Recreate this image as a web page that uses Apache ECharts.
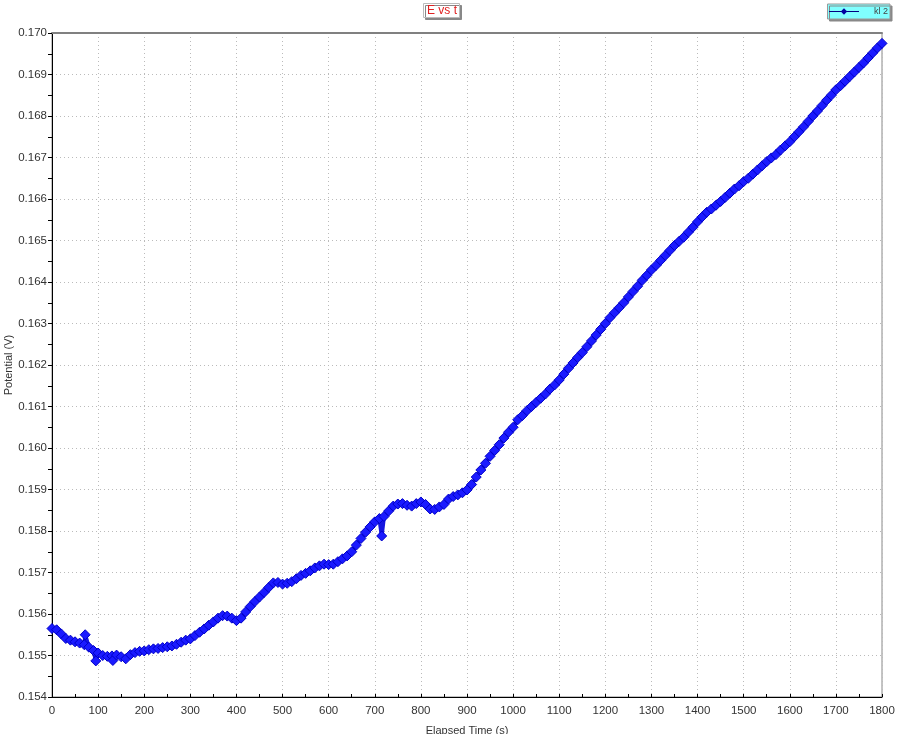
<!DOCTYPE html>
<html>
<head>
<meta charset="utf-8">
<script src="https://cdn.jsdelivr.net/npm/echarts@6/dist/echarts.min.js"></script>
<style>html,body{margin:0;padding:0;background:#fff;}#c{width:900px;height:734px;}</style>
</head>
<body>
<div id="c"></div>
<script>
// Sampling grid (s) for the main readings, every 10 s
const timeStep = 10;
// Potential readings (V) at t = 0, 10, 20, ... 1800 s
const potential = [
0.15565,0.15562,0.15552,0.15541,0.15537,0.15533,0.15530,0.15526,0.15520,0.15512,
0.15506,0.15500,0.15498,0.15499,0.15501,0.15497,0.15492,0.15502,0.15507,0.15510,
0.15511,0.15514,0.15516,0.15517,0.15519,0.15521,0.15523,0.15527,0.15532,0.15537,
0.15540,0.15548,0.15556,0.15564,0.15573,0.15581,0.15590,0.15596,0.15595,0.15590,
0.15584,0.15590,0.15605,0.15618,0.15630,0.15641,0.15652,0.15664,0.15675,0.15676,
0.15672,0.15674,0.15678,0.15685,0.15693,0.15698,0.15704,0.15711,0.15716,0.15720,
0.15719,0.15720,0.15726,0.15733,0.15740,0.15750,0.15766,0.15782,0.15797,0.15810,
0.15822,0.15830,0.15835,0.15848,0.15860,0.15865,0.15866,0.15862,0.15860,0.15866,
0.15870,0.15864,0.15853,0.15852,0.15858,0.15864,0.15877,0.15883,0.15887,0.15892,
0.15899,0.15912,0.15930,0.15947,0.15963,0.15980,0.15994,0.16008,0.16024,0.16038,
0.16050,0.16068,0.16078,0.16090,0.16100,0.16110,0.16120,0.16130,0.16142,0.16152,
0.16164,0.16178,0.16192,0.16205,0.16218,0.16230,0.16244,0.16258,0.16272,0.16286,
0.16300,0.16314,0.16326,0.16338,0.16350,0.16364,0.16377,0.16390,0.16404,0.16416,
0.16429,0.16440,0.16452,0.16464,0.16476,0.16488,0.16498,0.16508,0.16520,0.16532,
0.16545,0.16557,0.16568,0.16576,0.16585,0.16594,0.16604,0.16614,0.16624,0.16632,
0.16642,0.16650,0.16660,0.16670,0.16680,0.16690,0.16699,0.16707,0.16718,0.16728,
0.16738,0.16750,0.16762,0.16774,0.16787,0.16800,0.16812,0.16825,0.16838,0.16850,
0.16863,0.16873,0.16884,0.16895,0.16906,0.16917,0.16928,0.16940,0.16952,0.16964,
0.16975
];
// Isolated stray readings [t (s), E (V)]
const strayTimes = [72, 95, 132, 715];
const strayValues = [0.15550, 0.15487, 0.15488, 0.15788];

const xTicks = [0,100,200,300,400,500,600,700,800,900,1000,1100,1200,1300,1400,1500,1600,1700,1800];
const yTicks = [0.154,0.155,0.156,0.157,0.158,0.159,0.160,0.161,0.162,0.163,0.164,0.165,0.166,0.167,0.168,0.169,0.170];

const seriesName = 'kl 2';
const titleText = 'E vs t';
const xName = 'Elapsed Time (s)';
const yName = 'Potential (V)';

// Build point list
let pts = potential.map((v, i) => [i * timeStep, v]);
strayTimes.forEach((t, i) => pts.push([t, strayValues[i]]));
pts.sort((a, b) => a[0] - b[0]);

const chart = echarts.init(document.getElementById('c'), null, {renderer: 'canvas'});
const font = 'Liberation Sans, Arial, sans-serif';
chart.setOption({
  animation: false,
  backgroundColor: '#fff',
  title: {
    text: titleText,
    left: 423, top: 3,
    padding: [2, 3, 1, 4],
    backgroundColor: '#fff',
    borderColor: '#bbb', borderWidth: 1,
    shadowColor: '#888', shadowOffsetX: 2, shadowOffsetY: 2, shadowBlur: 0,
    textStyle: {color: '#e02020', fontSize: 12, fontWeight: 'normal', fontFamily: font}
  },
  legend: {
    right: 10, top: 4,
    padding: [3, 2, 3, 1],
    backgroundColor: '#80ffff',
    borderColor: '#999', borderWidth: 1,
    shadowColor: '#888', shadowOffsetX: 2, shadowOffsetY: 2, shadowBlur: 0,
    itemWidth: 30, itemHeight: 8, itemGap: 14,
    itemStyle: {color: '#0000a0', borderWidth: 0},
    lineStyle: {color: '#000080', width: 1},
    textStyle: {color: '#444', fontSize: 9, fontFamily: font, padding: [0,0,0,10]},
    data: [{name: seriesName}]
  },
  grid: {left: 52, right: 18, top: 33, bottom: 37, show: true, borderColor: '#888', borderWidth: 1,
         outerBoundsMode: 'none', containLabel: false},
  xAxis: [{
    type: 'value', min: 0, max: 1800, interval: 100,
    name: xName, nameLocation: 'middle', nameGap: 28, nameMoveOverlap: false,
    nameTextStyle: {color: '#333', fontSize: 11, fontFamily: font},
    axisLine: {show: true, onZero: false, lineStyle: {color: '#000', width: 1}},
    axisTick: {show: true, inside: true, length: 3, lineStyle: {color: '#000'}},
    minorTick: {show: true, splitNumber: 2, length: 3, lineStyle: {color: '#000'}},
    axisLabel: {color: '#333', fontSize: 11.5, fontFamily: font, margin: 8, formatter: v => String(v)},
    splitLine: {show: true, lineStyle: {color: '#bbb', type: [1, 3], width: 1}}
  }, {
    type: 'value', position: 'top', min: 0, max: 1800,
    axisLine: {show: true, lineStyle: {color: '#808080', width: 2}},
    axisTick: {show: false}, axisLabel: {show: false}, splitLine: {show: false}
  }],
  yAxis: [{
    type: 'value', min: 0.154, max: 0.170, interval: 0.001,
    name: yName, nameLocation: 'middle', nameGap: 38, nameRotate: 90, nameMoveOverlap: false,
    nameTextStyle: {color: '#333', fontSize: 11, fontFamily: font},
    axisLine: {show: true, onZero: false, lineStyle: {color: '#000', width: 1}},
    axisTick: {show: true, length: 4, lineStyle: {color: '#000'}},
    minorTick: {show: true, splitNumber: 2, length: 4, lineStyle: {color: '#000'}},
    axisLabel: {color: '#333', fontSize: 11.5, fontFamily: font, margin: 5,
      formatter: v => v.toFixed(3)},
    splitLine: {show: true, lineStyle: {color: '#bbb', type: [1, 3], width: 1}}
  }, {
    type: 'value', position: 'right', min: 0.154, max: 0.170,
    axisLine: {show: true, lineStyle: {color: '#000', width: 1}},
    axisTick: {show: false}, axisLabel: {show: false}, splitLine: {show: false}
  }],
  series: [{
    name: seriesName,
    type: 'line',
    data: pts,
    symbol: 'diamond',
    symbolSize: 10,
    showAllSymbol: true,
    lineStyle: {color: '#1515e0', width: 4},
    itemStyle: {color: '#1a1aff', borderColor: '#0000c8', borderWidth: 1},
    emphasis: {disabled: true}
  }]
});
</script>
</body>
</html>
